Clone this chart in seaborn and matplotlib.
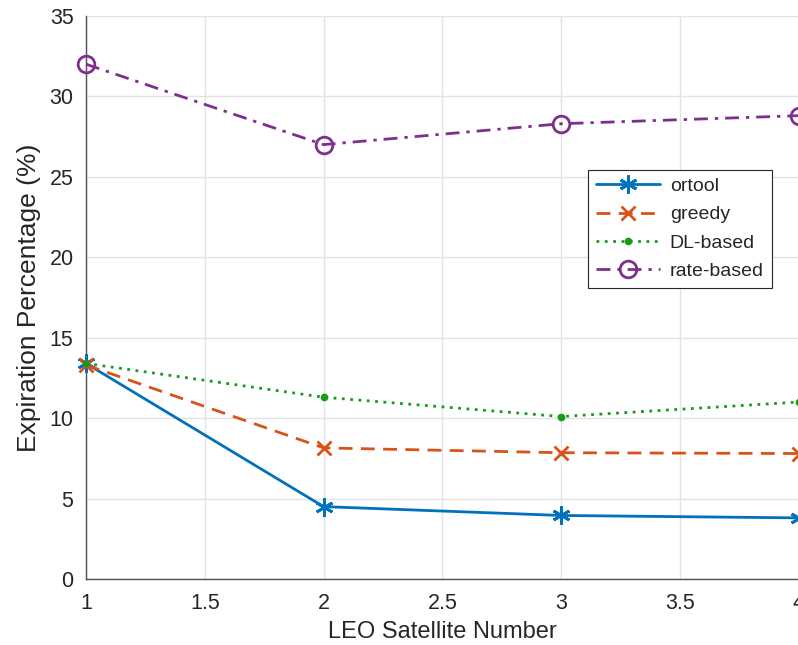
import matplotlib
matplotlib.use("Agg")
import matplotlib.pyplot as plt
import seaborn as sns

satellites = [1, 2, 3, 4]
ortool = [13.4, 4.5, 3.95, 3.8]
greedy = [13.3, 8.15, 7.85, 7.8]
dl_based = [13.4, 11.3, 10.1, 11.0]
rate_based = [32.0, 27.0, 28.3, 28.8]

sns.set_style("whitegrid")
plt.rcParams['font.family'] = ['Liberation Sans', 'DejaVu Sans']

fig = plt.figure(figsize=(7.98, 6.45), dpi=100)
ax = fig.add_axes([0.1078, 0.1023, 0.893, 0.873])

asterisk = (6, 2, 0)
styles = [
    (ortool, 'ortool', '#0072BD', '-', asterisk, 13, 'full'),
    (greedy, 'greedy', '#D95319', (0, (5, 3)), 'x', 10, 'full'),
    (dl_based, 'DL-based', '#1a9a1a', (0, (1, 2)), '.', 7, 'full'),
    (rate_based, 'rate-based', '#7E2F8E', (0, (5, 2.5, 1.2, 2.5)), 'o', 12, 'none'),
]
for vals, name, col, ls, mk, ms, fill in styles:
    sns.lineplot(x=satellites, y=vals, ax=ax, label=name, color=col, linestyle=ls,
                 linewidth=2, marker=mk, markersize=ms, markeredgewidth=2,
                 markerfacecolor=col if fill == 'full' else 'none', markeredgecolor=col,
                 clip_on=False, zorder=3)

ax.set_xlim(1, 4)
ax.set_ylim(0, 35)
ax.set_xticks([1, 1.5, 2, 2.5, 3, 3.5, 4])
ax.set_xticklabels(['1', '1.5', '2', '2.5', '3', '3.5', '4'])
ax.set_yticks(range(0, 36, 5))
ax.grid(True, color='#e3e3e3', linewidth=1)
for s in ['top', 'right']:
    ax.spines[s].set_visible(False)
for s in ['left', 'bottom']:
    ax.spines[s].set_color('#505050')
    ax.spines[s].set_linewidth(1)
ax.tick_params(axis='both', direction='in', length=7, width=1, color='#505050',
               labelsize=15.5, labelcolor='#262626')
ax.tick_params(axis='x', pad=10)
ax.tick_params(axis='y', pad=9)
ax.set_xlabel('LEO Satellite Number', fontsize=17, color='#262626', labelpad=5)
ax.set_ylabel('Expiration Percentage (%)', fontsize=19, color='#262626', labelpad=6)

leg = ax.legend(loc='upper left', bbox_to_anchor=(0.737, 0.737), bbox_transform=fig.transFigure,
                fontsize=14, frameon=True, fancybox=False, framealpha=1, handlelength=3.3,
                borderpad=0.4, labelspacing=0.55, handletextpad=0.5, borderaxespad=0)
leg.get_frame().set_edgecolor('#262626')
leg.get_frame().set_linewidth(0.8)

fig.savefig('out.png', dpi=100)
